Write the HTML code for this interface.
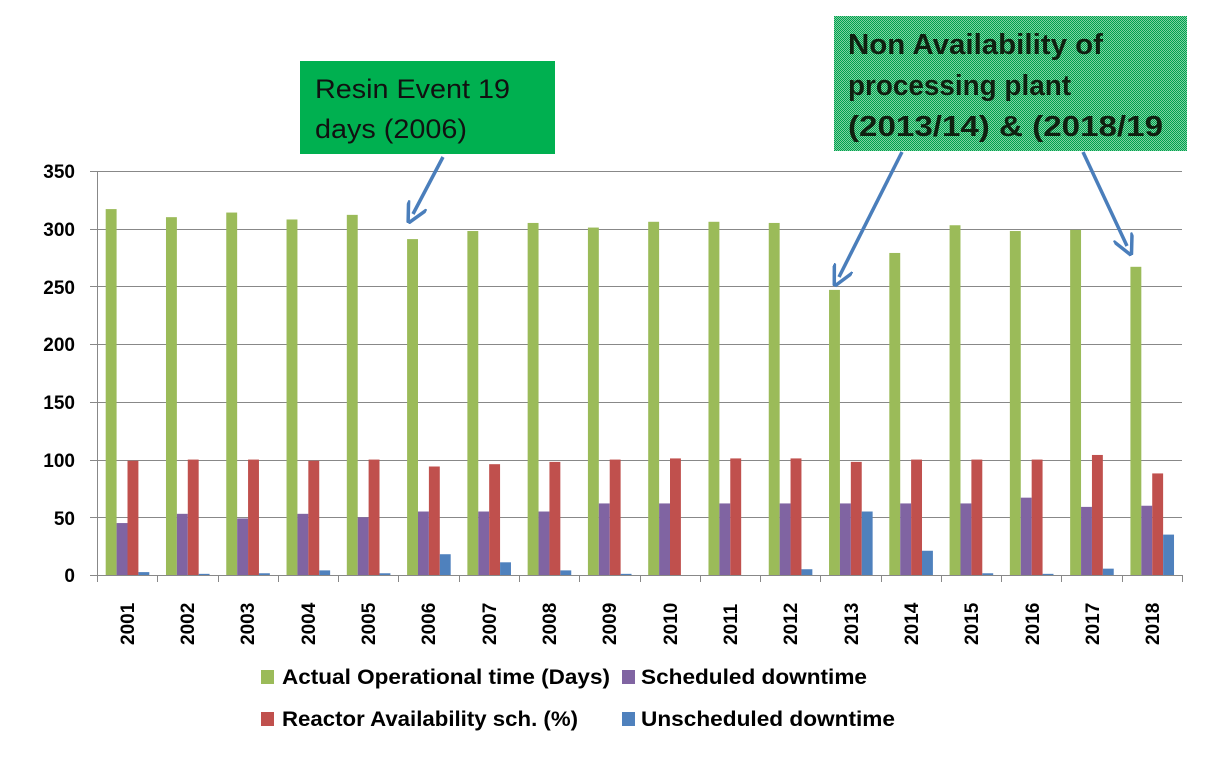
<!DOCTYPE html>
<html><head><meta charset="utf-8"><style>
body{margin:0;background:#fff;}
svg{display:block;font-family:"Liberation Sans",sans-serif;}
</style></head><body>
<svg id="s" width="1223" height="763" xmlns="http://www.w3.org/2000/svg">
<defs>
<pattern id="dots" width="2" height="2" patternUnits="userSpaceOnUse">
<rect width="2" height="2" fill="#7fd2a0"/>
<rect width="1" height="1" fill="#00a050"/>
<rect x="1" y="1" width="1" height="1" fill="#00a050"/>
</pattern>
<marker id="ah" markerWidth="6" markerHeight="6" refX="3" refY="3" orient="auto" markerUnits="strokeWidth">
<path d="M0,0 L6,3 L0,6" fill="none" stroke="#4a7ebb" stroke-width="1"/>
</marker>
</defs>
<g id="grid" stroke="#888" stroke-width="1"></g>
<g id="bars"></g>
<g font-weight="bold" font-size="19" text-anchor="end" fill="#000">
<text x="75" y="178">350</text>
<text x="75" y="236">300</text>
<text x="75" y="294">250</text>
<text x="75" y="351">200</text>
<text x="75" y="409">150</text>
<text x="75" y="467">100</text>
<text x="75" y="525">50</text>
<text x="75" y="582">0</text>
</g>
<g id="xl" font-weight="bold" font-size="19" fill="#000">
<text transform="translate(134,645) rotate(-90)">2001</text>
<text transform="translate(194,645) rotate(-90)">2002</text>
<text transform="translate(254,645) rotate(-90)">2003</text>
<text transform="translate(315,645) rotate(-90)">2004</text>
<text transform="translate(375,645) rotate(-90)">2005</text>
<text transform="translate(435,645) rotate(-90)">2006</text>
<text transform="translate(496,645) rotate(-90)">2007</text>
<text transform="translate(556,645) rotate(-90)">2008</text>
<text transform="translate(616,645) rotate(-90)">2009</text>
<text transform="translate(677,645) rotate(-90)">2010</text>
<text transform="translate(737,645) rotate(-90)">2011</text>
<text transform="translate(797,645) rotate(-90)">2012</text>
<text transform="translate(858,645) rotate(-90)">2013</text>
<text transform="translate(918,645) rotate(-90)">2014</text>
<text transform="translate(978,645) rotate(-90)">2015</text>
<text transform="translate(1039,645) rotate(-90)">2016</text>
<text transform="translate(1099,645) rotate(-90)">2017</text>
<text transform="translate(1159,645) rotate(-90)">2018</text>
</g>
<g font-weight="bold" font-size="21" fill="#000">
<rect x="261" y="670" width="13" height="14" fill="#9bbb59"/>
<text x="282" y="684" textLength="328" lengthAdjust="spacingAndGlyphs">Actual Operational time (Days)</text>
<rect x="622" y="670" width="13" height="14" fill="#8064a2"/>
<text x="641" y="684" textLength="226" lengthAdjust="spacingAndGlyphs">Scheduled downtime</text>
<rect x="261" y="712" width="13" height="14" fill="#c0504d"/>
<text x="282" y="726" textLength="296" lengthAdjust="spacingAndGlyphs">Reactor Availability sch. (%)</text>
<rect x="622" y="712" width="13" height="14" fill="#4f81bd"/>
<text x="641" y="726" textLength="254" lengthAdjust="spacingAndGlyphs">Unscheduled downtime</text>
</g>
<rect x="300" y="61" width="255" height="93" fill="#00b050"/>
<g font-size="27" fill="#111">
<text x="315" y="98" textLength="195" lengthAdjust="spacingAndGlyphs">Resin Event 19</text>
<text x="315" y="138" textLength="152" lengthAdjust="spacingAndGlyphs">days (2006)</text>
</g>
<rect x="834" y="16" width="353" height="135" fill="url(#dots)"/>
<g font-size="29" font-weight="bold" fill="#102010">
<text x="848" y="54" textLength="255" lengthAdjust="spacingAndGlyphs">Non Availability of</text>
<text x="848" y="95" textLength="223" lengthAdjust="spacingAndGlyphs">processing plant</text>
<text x="848" y="136" textLength="315" lengthAdjust="spacingAndGlyphs">(2013/14) &amp; (2018/19</text>
</g>
<g stroke="#4a7ebb" stroke-width="3.5" fill="none" marker-end="url(#ah)">
<line x1="443" y1="157" x2="413" y2="214"/>
<line x1="902" y1="152" x2="839" y2="277"/>
<line x1="1083" y1="152" x2="1127" y2="246"/>
</g>
</svg>
<script>
var ns="http://www.w3.org/2000/svg";
function el(p,t,a){var e=document.createElementNS(ns,t);for(var k in a)e.setAttribute(k,a[k]);p.appendChild(e);return e;}
var g=document.getElementById("grid"),b=document.getElementById("bars");
var y0=575,k=404/350,L=97,R=1182,cw=(R-L)/18;
for(var i=0;i<=7;i++){var y=Math.round(y0-i*50*k)+0.5;el(g,"line",{x1:90,x2:R,y1:y,y2:y});}
el(g,"line",{x1:L+0.5,x2:L+0.5,y1:171,y2:y0});
for(var i=0;i<=18;i++){var x=Math.round(L+i*cw)+0.5;el(g,"line",{x1:x,x2:x,y1:y0,y2:y0+7});}
var d=[[317,310,314,308,312,291,298,305,301,306,306,305,247,279,303,298,299,267],
[45,53,49,53,50,55,55,55,62,62,62,62,62,62,62,67,59,60],
[99,100,100,99,100,94,96,98,100,101,101,101,98,100,100,100,104,88],
[2.5,1,1.5,4,1.5,18,11,4,1,0,0,5,55,21,1.5,1,5.5,35]];
var c=["#9bbb59","#8064a2","#c0504d","#4f81bd"];
for(var s=0;s<4;s++)for(var i=0;i<18;i++){var h=d[s][i]*k;if(h<=0)continue;
el(b,"rect",{x:L+i*cw+8.7+s*10.9,y:y0-h,width:10.9,height:h,fill:c[s]});}
</script>
</body></html>
